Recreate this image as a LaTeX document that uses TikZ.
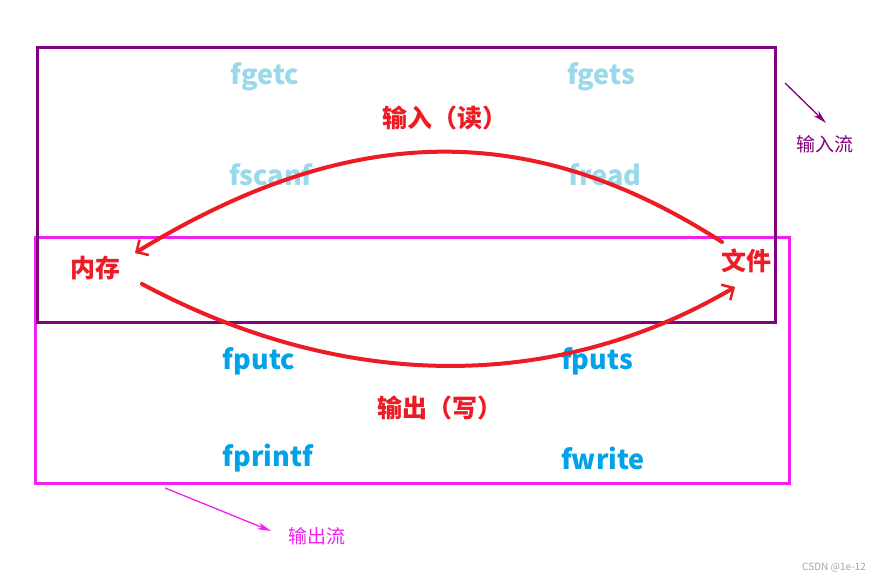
\documentclass[tikz,border=0pt]{standalone}
\usepackage{fontspec}
\setmainfont{Noto Sans CJK SC}
\newfontfamily\cjk{Noto Sans CJK SC}
\usetikzlibrary{arrows.meta}
\definecolor{instream}{HTML}{800080}
\definecolor{outstream}{HTML}{F020F0}
\definecolor{lightfn}{HTML}{99D9EA}
\definecolor{darkfn}{HTML}{00A2E8}
\definecolor{redink}{HTML}{ED1C24}
\tikzset{
  fnin/.style={text=lightfn, font=\cjk\bfseries\fontsize{27}{30}\selectfont, inner sep=0pt},
  fnout/.style={text=darkfn, font=\cjk\bfseries\fontsize{27}{30}\selectfont, inner sep=0pt},
  redlabel/.style={text=redink, font=\cjk\bfseries\fontsize{25}{28}\selectfont, inner sep=0pt},
  streamlabel/.style={font=\cjk\fontsize{19}{22}\selectfont, inner sep=0pt},
  streambox/.style={line width=3pt},
  flow/.style={draw=redink, line width=4pt, line cap=round, -{Straight Barb[length=9pt,width=18pt,line width=2.5pt]}},
  pointer/.style={line width=1.3pt, -{Stealth[length=14pt,width=7pt]}},
}
\begin{document}
\begin{tikzpicture}[x=1pt,y=-1pt]
\useasboundingbox (0,0) rectangle (884,583);
\fill[white] (0,0) rectangle (884,583);
% boxes
\draw[streambox, draw=outstream] (35,237) rectangle (789,483);
\draw[streambox, draw=instream] (37,48) rectangle (775,322);
% input functions
\node[fnin] (fgetc) at (265,77) {fgetc};
\node[fnin] (fgets) at (601,77) {fgets};
\node[fnin] (fscanf) at (271,175) {fscanf};
\node[fnin] (fread) at (605,175) {fread};
\node[redlabel] (rd) at (445,118) {输入（读）};
% output functions
\node[fnout] (fputc) at (259,361) {fputc};
\node[fnout] (fputs) at (597,361) {fputs};
\node[redlabel] (wr) at (440,408) {输出（写）};
\node[fnout] (fprintf) at (268,458) {fprintf};
\node[fnout] (fwrite) at (603,458) {fwrite};
% endpoints
\node[redlabel] (mem) at (95,268) {内存};
\node[redlabel] (file) at (746,261) {文件};
\coordinate (readstart) at (722,242);
\coordinate (readend) at (135,253);
\coordinate (writestart) at (142,284);
\coordinate (writeend) at (735,287);
\draw[flow] (readstart) .. controls (540,125) and (360,115) .. (readend);
\draw[flow] (writestart) .. controls (350,395) and (560,390) .. (writeend);
% stream labels
\node[streamlabel, text=instream] (inlab) at (825,144) {输入流};
\coordinate (inarrowtail) at (785,83);
\coordinate (inarrowhead) at (826,123);
\draw[pointer, instream] (inarrowtail) -- (inarrowhead);
\node[streamlabel, text=outstream] (outlab) at (317,536) {输出流};
\coordinate (outarrowtail) at (165,488);
\coordinate (outarrowhead) at (271,531);
\draw[pointer, outstream] (outarrowtail) -- (outarrowhead);
% watermark
\node[text=gray!70, font=\fontsize{10}{12}\selectfont, inner sep=0pt] (wm) at (834,568) {CSDN @1e-12};
\end{tikzpicture}
\end{document}
